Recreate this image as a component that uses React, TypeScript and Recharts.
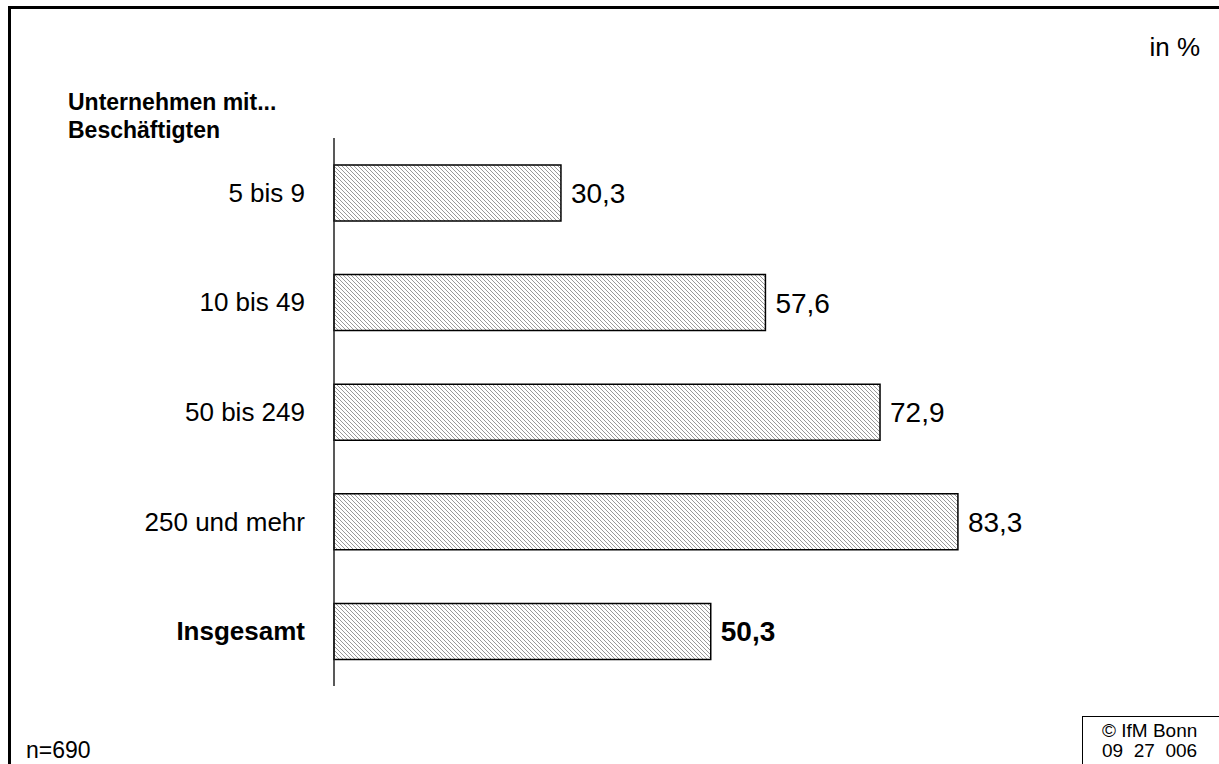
import React from 'react';
import { BarChart, Bar, XAxis, YAxis, LabelList } from 'recharts';

// Anteile je Größenklasse (in %)
const categories = ['5 bis 9', '10 bis 49', '50 bis 249', '250 und mehr', 'Insgesamt'];
const values = [30.3, 57.6, 72.9, 83.3, 50.3];
const boldCategory = 'Insgesamt';

const data = categories.map((name, i) => ({ name, value: values[i] }));

const FONT = '"Liberation Sans", Arial, sans-serif';

const CategoryTick = (props: any) => {
  const { x, y, payload } = props;
  const bold = payload.value === boldCategory;
  return (
    <text
      x={x}
      y={y}
      dy={9}
      textAnchor="end"
      fontFamily={FONT}
      fontSize={26}
      fontWeight={bold ? 'bold' : 'normal'}
      fill="#000"
    >
      {payload.value}
    </text>
  );
};

const ValueLabel = (props: any) => {
  const { x, y, width, height, value, index } = props;
  const bold = categories[index] === boldCategory;
  return (
    <text
      x={x + width + 10}
      y={y + height / 2}
      dy={10}
      fontFamily={FONT}
      fontSize={28}
      fontWeight={bold ? 'bold' : 'normal'}
      fill="#000"
    >
      {String(value).replace('.', ',')}
    </text>
  );
};

const txt: React.CSSProperties = {
  position: 'absolute',
  fontFamily: FONT,
  color: '#000',
  whiteSpace: 'pre',
};

export default function App() {
  return (
    <div style={{ position: 'absolute', left: 0, top: 0, width: 1219, height: 764, background: '#fff', overflow: 'hidden' }}>
      {/* Rahmen oben und links */}
      <div style={{ position: 'absolute', left: 8, top: 6, width: 1300, height: 900, borderTop: '3px solid #000', borderLeft: '3px solid #000' }} />

      <BarChart
        width={1219}
        height={764}
        data={data}
        layout="vertical"
        margin={{ top: 138, right: 136, bottom: 78, left: 0 }}
        style={{ position: 'absolute', left: 0, top: 0 }}
      >
        <defs>
          <pattern id="hatch" patternUnits="userSpaceOnUse" width={4} height={4}>
            <path d="M-1,-1 L5,5 M3,-1 L5,1 M-1,3 L1,5" stroke="#999" strokeWidth={1} />
          </pattern>
        </defs>
        <XAxis type="number" domain={[0, 100]} hide />
        <YAxis
          type="category"
          dataKey="name"
          width={334}
          tickLine={false}
          tickSize={0}
          tickMargin={29}
          axisLine={{ stroke: '#222', strokeWidth: 1.5 }}
          tick={<CategoryTick />}
        />
        <Bar dataKey="value" fill="url(#hatch)" stroke="#000" strokeWidth={1.5} barSize={56} isAnimationActive={false}>
          <LabelList dataKey="value" content={<ValueLabel />} />
        </Bar>
      </BarChart>

      <div style={{ ...txt, right: 19, top: 32, fontSize: 26, lineHeight: '30px' }}>in %</div>
      <div style={{ ...txt, left: 68, top: 88, fontSize: 23, lineHeight: '28px', fontWeight: 'bold' }}>
        {'Unternehmen mit...\nBeschäftigten'}
      </div>
      <div style={{ ...txt, left: 26, top: 737, fontSize: 23, lineHeight: '26px' }}>n=690</div>

      {/* Copyright-Kasten */}
      <div style={{ position: 'absolute', left: 1082, top: 716, width: 200, height: 100, borderTop: '1.5px solid #000', borderLeft: '1.5px solid #000' }} />
      <div style={{ ...txt, left: 1102, top: 721, fontSize: 19, lineHeight: '20px' }}>
        {'© IfM Bonn\n09  27  006'}
      </div>
    </div>
  );
}
